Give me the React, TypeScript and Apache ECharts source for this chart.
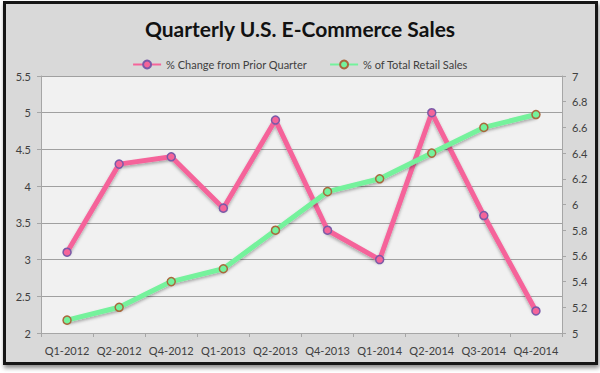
import React, { useEffect, useRef } from "react";
import * as echarts from "echarts";

const categories = ["Q1-2012", "Q2-2012", "Q4-2012", "Q1-2013", "Q2-2013", "Q4-2013", "Q1-2014", "Q2-2014", "Q3-2014", "Q4-2014"];
const changeFromPrior = [3.1, 4.3, 4.4, 3.7, 4.9, 3.4, 3.0, 5.0, 3.6, 2.3];
const shareOfRetail = [5.1, 5.2, 5.4, 5.5, 5.8, 6.1, 6.2, 6.4, 6.6, 6.7];
const titleText = "Quarterly U.S. E-Commerce Sales";
const seriesNames = ["% Change from Prior Quarter", "% of Total Retail Sales"];

export default function App() {
  const ref = useRef<HTMLDivElement>(null);
  useEffect(() => {
    if (!ref.current) return;
    const chart = echarts.init(ref.current, null, { renderer: "svg" });
    const font = "Lato, 'Open Sans', sans-serif";
    chart.setOption({
      animation: false,
      backgroundColor: "#ffffff",
      textStyle: { fontFamily: font },
      graphic: [
        {
          type: "rect",
          z: -10,
          silent: true,
          shape: { x: 4.5, y: 2.5, width: 592, height: 361 },
          style: {
            fill: "#d9d9d9",
            stroke: "#151515",
            lineWidth: 3,
            shadowColor: "rgba(0,0,0,0.45)",
            shadowBlur: 4,
            shadowOffsetX: 1,
            shadowOffsetY: 3,
          },
        },
      ],
      title: {
        text: titleText,
        left: "center",
        top: 13,
        textStyle: { fontFamily: font, fontSize: 21, fontWeight: "bold", color: "#111111" },
      },
      legend: {
        top: 54,
        left: "center",
        itemWidth: 28,
        itemHeight: 10,
        itemGap: 22,
        textStyle: { fontFamily: font, fontSize: 11, color: "#404040" },
        data: seriesNames,
      },
      grid: {
        left: 41,
        right: 38,
        top: 76,
        bottom: 40,
        show: true,
        backgroundColor: "#f1f1f1",
        borderWidth: 0,
      },
      xAxis: {
        type: "category",
        data: categories,
        boundaryGap: true,
        axisLine: { lineStyle: { color: "#a6a6a6" } },
        axisTick: { show: true, length: 4, interval: 0, lineStyle: { color: "#a6a6a6" } },
        axisLabel: { interval: 0, margin: 12, fontSize: 11, color: "#404040", fontFamily: font },
      },
      yAxis: [
        {
          type: "value",
          min: 2,
          max: 5.5,
          interval: 0.5,
          position: "left",
          axisLine: { show: true, lineStyle: { color: "#a6a6a6" } },
          axisTick: { show: true, length: 4, lineStyle: { color: "#a6a6a6" } },
          axisLabel: { margin: 10, fontSize: 11, color: "#404040", fontFamily: font },
          splitLine: { show: true, lineStyle: { color: "#a0a0a0", width: 1 } },
        },
        {
          type: "value",
          min: 5,
          max: 7,
          interval: 0.2,
          position: "right",
          axisLine: { show: true, lineStyle: { color: "#a6a6a6" } },
          axisTick: { show: true, length: 4, lineStyle: { color: "#a6a6a6" } },
          axisLabel: {
            margin: 10,
            fontSize: 11,
            color: "#404040",
            fontFamily: font,
            formatter: (v: number) => String(Math.round(v * 10) / 10),
          },
          splitLine: { show: false },
        },
      ],
      series: [
        {
          name: seriesNames[0],
          type: "line",
          yAxisIndex: 0,
          data: changeFromPrior,
          symbol: "circle",
          symbolSize: 8,
          lineStyle: {
            color: "#f5649a",
            width: 5,
            shadowColor: "rgba(0,0,0,0.3)",
            shadowBlur: 3,
            shadowOffsetY: 2,
          },
          itemStyle: { color: "#f5649a", borderColor: "#7a5aa8", borderWidth: 1.5 },
        },
        {
          name: seriesNames[1],
          type: "line",
          yAxisIndex: 1,
          data: shareOfRetail,
          symbol: "circle",
          symbolSize: 8,
          lineStyle: {
            color: "#74f29c",
            width: 5,
            shadowColor: "rgba(0,0,0,0.3)",
            shadowBlur: 3,
            shadowOffsetY: 2,
          },
          itemStyle: { color: "#74f29c", borderColor: "#a8683c", borderWidth: 1.5 },
        },
      ],
    });
    return () => chart.dispose();
  }, []);
  return (
    <div
      ref={ref}
      style={{ position: "absolute", left: 0, top: 0, width: 600, height: 373 }}
    />
  );
}
